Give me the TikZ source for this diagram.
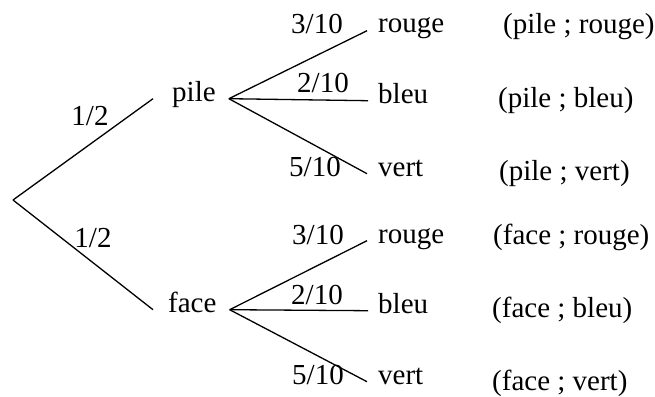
\documentclass[tikz,border=0pt]{standalone}
\usepackage{fontspec}
\setmainfont{Liberation Serif}
\newfontfamily\treefont{Liberation Serif}
\usetikzlibrary{calc}

\begin{document}
\begin{tikzpicture}[
    x=1pt, y=-1pt,
    font=\treefont\fontsize{29}{34}\selectfont,
    outcome/.style={
        inner sep=0pt, anchor=base west,
        text height=0.46em, text depth=0pt
    },
    prob/.style={
        inner sep=0pt, anchor=base
    },
    result/.style={
        inner sep=0pt, anchor=base west
    },
    branch/.style={
        line width=1.3pt, draw=black
    }
]
\useasboundingbox (0,0) rectangle (655,396);

% Racine
\coordinate (root) at (13,200);

% 1. Premier niveau : pile / face
\node[outcome] (pile) at (172,101) {pile};
\node[outcome] (face) at (168,312) {face};

% 2. Second niveau : couleurs apres pile
\node[outcome] (pilerouge) at (378,33) {rouge};
\node[outcome] (pilebleu) at (378,103) {bleu};
\node[outcome] (pilevert) at (378,176) {vert};

% 3. Second niveau : couleurs apres face
\node[outcome] (facerouge) at (378,243) {rouge};
\node[outcome] (facebleu) at (378,313) {bleu};
\node[outcome] (facevert) at (378,384) {vert};

% 4. Issues
\node[result] (respr) at (503,34) {(pile ; rouge)};
\node[result] (respb) at (498,107) {(pile ; bleu)};
\node[result] (respv) at (499,180) {(pile ; vert)};
\node[result] (resfr) at (493,244) {(face ; rouge)};
\node[result] (resfb) at (492,317) {(face ; bleu)};
\node[result] (resfv) at (492,390) {(face ; vert)};

% ================= Branches =================
\draw[branch] (root) -- ([xshift=-19pt]pile.west);
\draw[branch] (root) -- ([xshift=-15pt]face.west);

\draw[branch] ([xshift=13pt]pile.east) -- ([xshift=-11pt]pilerouge.west);
\draw[branch] ([xshift=13pt]pile.east) -- ([xshift=-10pt]pilebleu.west);
\draw[branch] ([xshift=13pt]pile.east) -- ([xshift=-11pt]pilevert.west);

\draw[branch] ([xshift=13pt]face.east) -- ([xshift=-11pt]facerouge.west);
\draw[branch] ([xshift=13pt]face.east) -- ([xshift=-10pt]facebleu.west);
\draw[branch] ([xshift=13pt]face.east) -- ([xshift=-11pt]facevert.west);

% ================= Probabilites =================
\node[prob] (ppile) at (90,125) {1/2};
\node[prob] (pface) at (93,247) {1/2};

\node[prob] (p1) at (317,34) {3/10};
\node[prob] (p2) at (323,92) {2/10};
\node[prob] (p3) at (315,176) {5/10};

\node[prob] (p4) at (318,244) {3/10};
\node[prob] (p5) at (317,304) {2/10};
\node[prob] (p6) at (318,384) {5/10};

\end{tikzpicture}
\end{document}
